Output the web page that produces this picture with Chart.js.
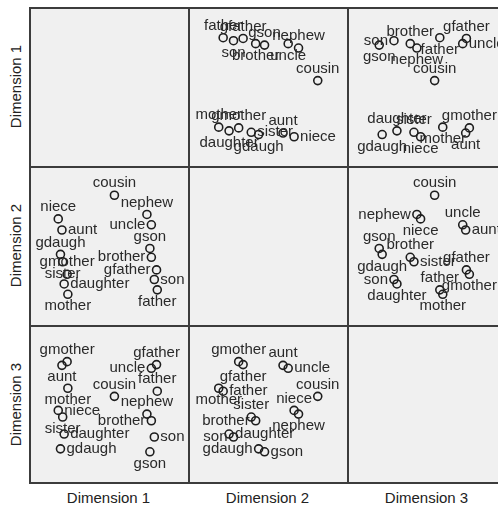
<!DOCTYPE html>
<html>
<head>
<meta charset="utf-8">
<script src="https://cdn.jsdelivr.net/npm/chart.js@4.4.1/dist/chart.umd.min.js"></script>
<style>
  body { margin: 0; width: 498px; height: 508px; overflow: hidden; background: #fff; position: relative;
         font-family: "Liberation Sans", Arial, sans-serif; color: #222; }
  .cell { position: absolute; width: 159px; height: 159px; }
  .xt { position: absolute; top: 489px; width: 159px; text-align: center; font-size: 15px; line-height: 17px; }
  .yt { position: absolute; width: 159px; text-align: center; font-size: 15px; line-height: 17px;
        transform: rotate(-90deg); }
</style>
</head>
<body>
<script>
// kinship terms, 3-dimensional MDS solution
const terms = ["aunt", "brother", "cousin", "daughter", "father", "gdaugh", "gfather", "gmother",
               "gson", "mother", "nephew", "niece", "sister", "son", "uncle"];
const dim1 = [-0.63, 0.58, 0.08, -0.60, 0.66, -0.65, 0.65, -0.56, 0.56, -0.55, 0.52, -0.68, -0.62, 0.62, 0.58];
const dim2 = [0.21, -0.16, 0.68, -0.52, -0.60, -0.12, -0.33, -0.39, -0.04, -0.66, 0.42, 0.36, -0.22, -0.46, 0.28];
const dim3 = [0.53, -0.22, 0.11, -0.40, 0.18, -0.60, 0.54, 0.58, -0.64, 0.22, -0.13, -0.08, -0.17, -0.44, 0.49];
const dimNames = ["Dimension 1", "Dimension 2", "Dimension 3"];
const dims = [dim1, dim2, dim3];

const left0 = 29, top0 = 7, size = 159;

// light grey panel with dark frame
const framePlugin = {
  id: 'frame',
  beforeDraw(chart) {
    const c = chart.ctx, w = chart.width, h = chart.height;
    c.save();
    c.fillStyle = '#f0f0f0';
    c.fillRect(0, 0, w, h);
    c.strokeStyle = '#3c3c3c';
    c.lineWidth = 2;
    c.beginPath();
    c.moveTo(1, h); c.lineTo(1, 1); c.lineTo(w, 1);
    if (chart.options.lastRow) { c.moveTo(0, h - 1); c.lineTo(w, h - 1); }
    c.stroke();
    c.restore();
  }
};

// point labels, placed beside the marker where they collide least
const labelPlugin = {
  id: 'pointLabels',
  afterDatasetsDraw(chart) {
    const meta = chart.getDatasetMeta(0);
    if (!meta || !meta.data.length) return;
    const c = chart.ctx;
    c.save();
    c.font = '15px "Liberation Sans", Arial, sans-serif';
    c.fillStyle = '#2a2a2a';
    c.textBaseline = 'middle';
    const placed = [];
    const pts = meta.data.map(e => ({ x: e.x, y: e.y }));
    const overlap = (a, b) => Math.max(0, Math.min(a.x + a.w, b.x + b.w) - Math.max(a.x, b.x)) *
                              Math.max(0, Math.min(a.y + a.h, b.y + b.h) - Math.max(a.y, b.y));
    meta.data.forEach((el, i) => {
      const txt = chart.data.datasets[0].data[i].t;
      const w = c.measureText(txt).width, h = 12, r = 6;
      const px = el.x, py = el.y;
      const cands = [
        { x: px - w / 2, y: py - r - h },
        { x: px + r, y: py - h / 2 },
        { x: px - w / 2, y: py + r },
        { x: px - r - w, y: py - h / 2 }
      ];
      let best = null, bestScore = Infinity;
      cands.forEach(b => {
        b.w = w; b.h = h;
        let s = 0;
        placed.forEach(p => s += overlap(b, p));
        pts.forEach(p => s += overlap(b, { x: p.x - 5, y: p.y - 5, w: 10, h: 10 }) * 2);
        const out = Math.max(0, -b.x) + Math.max(0, b.x + w - chart.width) +
                    Math.max(0, -b.y) + Math.max(0, b.y + h - chart.height);
        s += out * 30;
        if (s < bestScore - 0.01) { bestScore = s; best = b; }
      });
      placed.push(best);
      c.fillText(txt, best.x, best.y + h / 2);
    });
    c.restore();
  }
};

for (let row = 0; row < 3; row++) {
  for (let col = 0; col < 3; col++) {
    const div = document.createElement('div');
    div.className = 'cell';
    div.style.left = (left0 + col * size) + 'px';
    div.style.top = (top0 + row * size) + 'px';
    const cv = document.createElement('canvas');
    cv.width = size; cv.height = size;
    div.appendChild(cv);
    document.body.appendChild(div);

    const points = row === col ? [] :
      terms.map((t, i) => ({ x: dims[col][i], y: dims[row][i], t: t }));

    new Chart(cv.getContext('2d'), {
      type: 'scatter',
      data: {
        datasets: [{
          data: points,
          pointStyle: 'circle',
          pointRadius: 4,
          pointHoverRadius: 4,
          borderWidth: 1.6,
          borderColor: '#1e1e1e',
          backgroundColor: 'rgba(0,0,0,0)'
        }]
      },
      options: {
        responsive: false,
        animation: false,
        lastRow: row === 2,
        layout: { padding: 0 },
        plugins: { legend: { display: false }, tooltip: { enabled: false } },
        scales: {
          x: { type: 'linear', display: false, min: -1, max: 1 },
          y: { type: 'linear', display: false, min: -1, max: 1 }
        }
      },
      plugins: [framePlugin, labelPlugin]
    });
  }
}

dimNames.forEach((name, k) => {
  const xt = document.createElement('div');
  xt.className = 'xt';
  xt.style.left = (left0 + k * size) + 'px';
  xt.textContent = name;
  document.body.appendChild(xt);

  const yt = document.createElement('div');
  yt.className = 'yt';
  yt.style.left = (15 - size / 2) + 'px';
  yt.style.top = (top0 + k * size + size / 2 - 8.5) + 'px';
  yt.textContent = name;
  document.body.appendChild(yt);
});
</script>
</body>
</html>
